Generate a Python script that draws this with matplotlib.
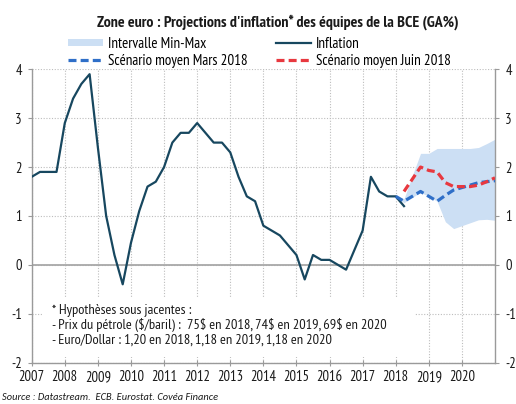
import matplotlib
matplotlib.use("Agg")
import matplotlib.pyplot as plt
from matplotlib.patches import Rectangle, Patch
from matplotlib.lines import Line2D

plt.rcParams['font.family'] = ['PT Sans Narrow', 'DejaVu Sans']
plt.rcParams['axes.unicode_minus'] = False

# inflation trimestrielle, GA%, depuis T1 2007
inflation = [1.8, 1.9, 1.9, 1.9, 2.9, 3.4, 3.7, 3.9, 2.4, 1.0, 0.2, -0.4,
             0.45, 1.1, 1.6, 1.7, 2.0, 2.5, 2.7, 2.7, 2.9, 2.7, 2.5, 2.5,
             2.3, 1.8, 1.4, 1.3, 0.8, 0.7, 0.6, 0.4, 0.2, -0.3, 0.2, 0.1,
             0.1, 0.0, -0.1, 0.3, 0.7, 1.8, 1.5, 1.4, 1.4, 1.2]
x_infl = [2007 + i / 4 for i in range(len(inflation))]

# projections BCE (trimestres de 2018 a fin 2020)
x_proj = [2018 + i / 4 for i in range(13)]
mars_2018 = [1.4, 1.3, 1.4, 1.5, 1.4, 1.3, 1.42, 1.53, 1.58, 1.63, 1.68, 1.7, 1.72]
juin_2018 = [1.5, 1.75, 2.0, 1.93, 1.9, 1.68, 1.6, 1.6, 1.6, 1.63, 1.7, 1.78]
band_low = [1.4, 1.27, 1.38, 1.48, 1.4, 1.3, 0.88, 0.74, 0.8, 0.86, 0.92, 0.93, 0.91]
band_high = [1.4, 1.35, 1.82, 2.28, 2.28, 2.38, 2.38, 2.38, 2.38, 2.38, 2.4, 2.48, 2.57]

years = list(range(2007, 2021))
yticks = [-2, -1, 0, 1, 2, 3, 4]

notes = ["* Hypothèses sous jacentes :",
         r"- Prix du pétrole (\$/baril) :  75\$ en 2018, 74\$ en 2019, 69\$ en 2020",
         "- Euro/Dollar : 1,20 en 2018, 1,18 en 2019, 1,18 en 2020"]

c_infl = '#17475F'
c_mars = '#2F6FC8'
c_juin = '#E8383F'
c_band = '#CCDFF4'
c_axis = '#9A9A9A'
c_text = '#1A1A1A'

fig = plt.figure(figsize=(5.16, 4.04), dpi=100)
ax = fig.add_axes([31.7 / 516, 1 - 362.5 / 404, (495 - 31.7) / 516, (362.5 - 69.3) / 404])

ax.set_xlim(2007, 2021)
ax.set_ylim(-2, 4)
ax.set_axisbelow(True)
ax.grid(True, ls=(0, (1, 1.5)), color='#BDBDBD', lw=0.8)
ax.axhline(0, color='#A8A8A8', lw=1.3, zorder=1)

ax.fill_between(x_proj, band_low, band_high, color=c_band, lw=0, zorder=1.5)
ax.plot(x_infl, inflation, color=c_infl, lw=1.6, zorder=3)
ax.plot(x_proj, mars_2018, color=c_mars, lw=2.3, dashes=(2.5, 1.3), zorder=4)
ax.plot(x_proj[1:], juin_2018, color=c_juin, lw=2.3, dashes=(2.5, 1.3), zorder=4)

# encadre des hypotheses
ax.add_patch(Rectangle((2007.35, -1.88), 11.23, 1.22, facecolor='white', edgecolor='none', zorder=2))
for i, line in enumerate(notes):
    ax.text(2007.6, -0.93 - 0.31 * i, line, fontsize=10.4, color=c_text, va='center', ha='left', zorder=5)

ax.spines['top'].set_visible(False)
for s in ['left', 'right', 'bottom']:
    ax.spines[s].set_color(c_axis)
    ax.spines[s].set_linewidth(1)

ax.set_xticks(years)
ax.set_yticks(yticks)
ax.tick_params(axis='x', direction='inout', length=4.5, color=c_axis, labelsize=10.5, pad=3, labelcolor=c_text)
ax.tick_params(axis='y', direction='out', length=3, color=c_axis, labelsize=10.5, pad=4, labelcolor=c_text)

ax2 = ax.twinx()
ax2.set_ylim(-2, 4)
ax2.set_yticks(yticks)
ax2.tick_params(axis='y', direction='out', length=3, color=c_axis, labelsize=10.5, pad=4.5, labelcolor=c_text)
for s in ['top', 'left', 'bottom', 'right']:
    ax2.spines[s].set_visible(False)

fig.text(277.5 / 516, 1 - 22 / 404, "Zone euro : Projections d'inflation* des équipes de la BCE (GA%)",
         ha='center', va='center', fontsize=11.4, fontweight='bold', color=c_text)

h_band = Patch(facecolor=c_band, edgecolor='none')
h_mars = Line2D([], [], color=c_mars, lw=2.3, dashes=(2.5, 1.3))
h_infl = Line2D([], [], color=c_infl, lw=1.6)
h_juin = Line2D([], [], color=c_juin, lw=2.3, dashes=(2.5, 1.3))

leg_kw = dict(loc='upper left', frameon=False, fontsize=10.8, handlelength=2.3,
              handleheight=0.4, handletextpad=0.35, labelspacing=0.2, borderpad=0, borderaxespad=0)
leg1 = fig.legend([h_band, h_mars], ['Intervalle Min-Max', 'Scénario moyen Mars 2018'],
                  bbox_to_anchor=(68 / 516, 1 - 37 / 404), **leg_kw)
leg2 = fig.legend([h_infl, h_juin], ['Inflation', 'Scénario moyen Juin 2018'],
                  bbox_to_anchor=(276 / 516, 1 - 37 / 404), **leg_kw)

fig.text(2 / 516, 1 - 398 / 404, "Source : Datastream.  ECB. Eurostat. Covéa Finance",
         ha='left', va='center', fontsize=7.5, style='italic', family=['Carlito', 'DejaVu Sans'],
         color=c_text)

fig.savefig('out.png', dpi=100)
